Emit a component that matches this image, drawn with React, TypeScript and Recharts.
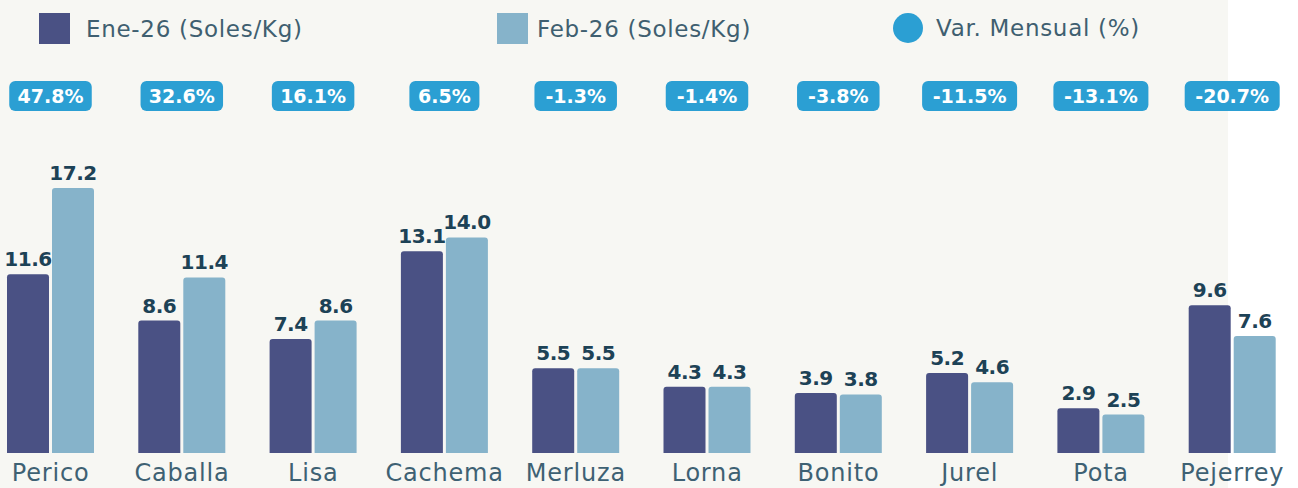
import { BarChart, Bar, XAxis, YAxis, LabelList } from 'recharts';

const categories = ['Perico', 'Caballa', 'Lisa', 'Cachema', 'Merluza', 'Lorna', 'Bonito', 'Jurel', 'Pota', 'Pejerrey'];
const ene26 = [11.6, 8.6, 7.4, 13.1, 5.5, 4.3, 3.9, 5.2, 2.9, 9.6];
const feb26 = [17.2, 11.4, 8.6, 14.0, 5.5, 4.3, 3.8, 4.6, 2.5, 7.6];
const varMensual = [47.8, 32.6, 16.1, 6.5, -1.3, -1.4, -3.8, -11.5, -13.1, -20.7];

const data = categories.map((name, i) => ({
  name,
  ene: ene26[i],
  feb: feb26[i],
  pct: varMensual[i],
}));

const FONT = "'DejaVu Sans', sans-serif";
const ENE = '#4a5184';
const FEB = '#86b3ca';
const VAR = '#2b9fd3';
const BAR_GAP = 3;

function Badge(props: any) {
  const { x, width, value } = props;
  const txt = `${Number(value).toFixed(1)}%`;
  const w = txt.length * 12.5 + 20;
  const cx = Number(x) + Number(width) + BAR_GAP / 2;
  const cy = 96;
  return (
    <g>
      <rect x={cx - w / 2} y={cy - 15} width={w} height={30} rx={6} fill={VAR} />
      <text x={cx} y={cy + 7} textAnchor="middle" fill="#fff" fontSize={19} fontWeight="bold" fontFamily={FONT}>
        {txt}
      </text>
    </g>
  );
}

function LegendBox() {
  const item = { display: 'flex', alignItems: 'center', position: 'absolute' as const, top: 13 };
  const txt = { fontSize: 23, color: '#3f5f70', fontFamily: FONT, letterSpacing: 0.7, marginLeft: 16 };
  return (
    <>
      <div style={{ ...item, left: 39 }}>
        <span style={{ width: 31, height: 31, background: ENE, display: 'inline-block' }} />
        <span style={txt}>Ene-26 (Soles/Kg)</span>
      </div>
      <div style={{ ...item, left: 497 }}>
        <span style={{ width: 31, height: 31, background: FEB, display: 'inline-block' }} />
        <span style={{ ...txt, marginLeft: 9 }}>Feb-26 (Soles/Kg)</span>
      </div>
      <div style={{ ...item, left: 893 }}>
        <span style={{ width: 30, height: 30, borderRadius: 15, background: VAR, display: 'inline-block' }} />
        <span style={{ ...txt, marginLeft: 13 }}>Var. Mensual (%)</span>
      </div>
    </>
  );
}

const fmt = (v: any) => Number(v).toFixed(1);

export default function App() {
  return (
    <div style={{ position: 'absolute', left: 0, top: 0, width: 1298, height: 488, overflow: 'hidden', background: '#ffffff' }}>
      <div style={{ position: 'absolute', left: 0, top: 0, width: 1228, height: 488, background: '#f7f7f3' }} />
      <div style={{ position: 'absolute', left: -15, top: 0 }}>
        <BarChart
          width={1313}
          height={488}
          data={data}
          margin={{ top: 145, right: 0, left: 0, bottom: 0 }}
          barGap={BAR_GAP}
          barCategoryGap={22}
        >
          <XAxis
            dataKey="name"
            height={35}
            axisLine={false}
            tickLine={false}
            tickSize={0}
            tickMargin={11}
            interval={0}
            tick={{ fontSize: 24, fill: '#3e6173', fontFamily: FONT, letterSpacing: 0.8 }}
          />
          <YAxis hide domain={[0, 20]} />
          <Bar dataKey="ene" fill={ENE} radius={[3, 3, 0, 0]} isAnimationActive={false}>
            <LabelList dataKey="ene" position="top" offset={8} formatter={fmt} fill="#1d4256" fontSize={20} fontWeight="bold" fontFamily={FONT} letterSpacing={-0.5} />
            <LabelList dataKey="pct" content={Badge} />
          </Bar>
          <Bar dataKey="feb" fill={FEB} radius={[3, 3, 0, 0]} isAnimationActive={false}>
            <LabelList dataKey="feb" position="top" offset={8} formatter={fmt} fill="#1d4256" fontSize={20} fontWeight="bold" fontFamily={FONT} letterSpacing={-0.5} />
          </Bar>
        </BarChart>
      </div>
      <LegendBox />
    </div>
  );
}
